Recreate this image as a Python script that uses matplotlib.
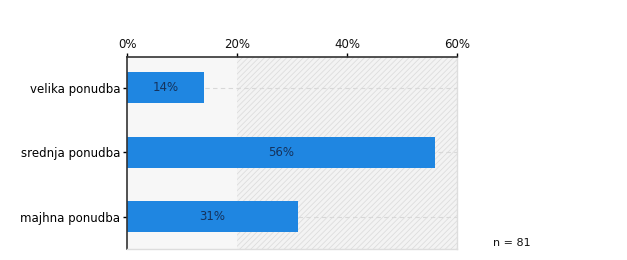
import matplotlib.pyplot as plt
import matplotlib as mpl

# data
categories = ["velika ponudba", "srednja ponudba", "majhna ponudba"]
values = [14, 56, 31]
xticks = [0, 20, 40, 60]
n_label = "n = 81"

mpl.rcParams["hatch.color"] = "#dcdcdc"
mpl.rcParams["hatch.linewidth"] = 0.6

fig = plt.figure(figsize=(6.27, 2.6), dpi=100)
ax = fig.add_axes([127 / 627, 1 - 249 / 260, 330 / 627, 192 / 260])

ax.set_xlim(0, 60)
ax.set_ylim(2.5, -0.48)

# background: plain up to 20%, hatched beyond
ax.axvspan(0, 20, color="#f7f7f7", zorder=0, lw=0)
ax.axvspan(20, 60, facecolor="#f3f3f3", edgecolor="#dddddd", hatch="//////",
           lw=0, zorder=0)

ypos = list(range(len(categories)))
for y in ypos:
    ax.axhline(y, color="#d8d8d8", lw=0.8, ls=(0, (4, 3)), zorder=1)

bars = ax.barh(ypos, values, height=0.48, color="#1f86e1", zorder=2)
for y, v in zip(ypos, values):
    ax.text(v / 2, y, f"{v}%", ha="center", va="center", fontsize=8.5,
            color="#15325c", zorder=3)

ax.xaxis.tick_top()
ax.set_xticks(xticks)
ax.set_xticklabels([f"{t}%" for t in xticks], fontsize=8.5, color="#111111")
ax.tick_params(axis="x", length=3, width=1, pad=1)
ax.set_yticks(ypos)
ax.set_yticklabels(categories, fontsize=8.5, color="#000000")
ax.tick_params(axis="y", length=3, width=1, pad=2)

for s in ["top", "left"]:
    ax.spines[s].set_color("#333333")
    ax.spines[s].set_linewidth(1.2)
for s in ["right", "bottom"]:
    ax.spines[s].set_color("#dddddd")
    ax.spines[s].set_linewidth(1)

fig.text(493 / 627, 1 - 243 / 260, n_label, fontsize=8, color="#111111",
         va="center", ha="left")

fig.savefig("out.png", dpi=100)
